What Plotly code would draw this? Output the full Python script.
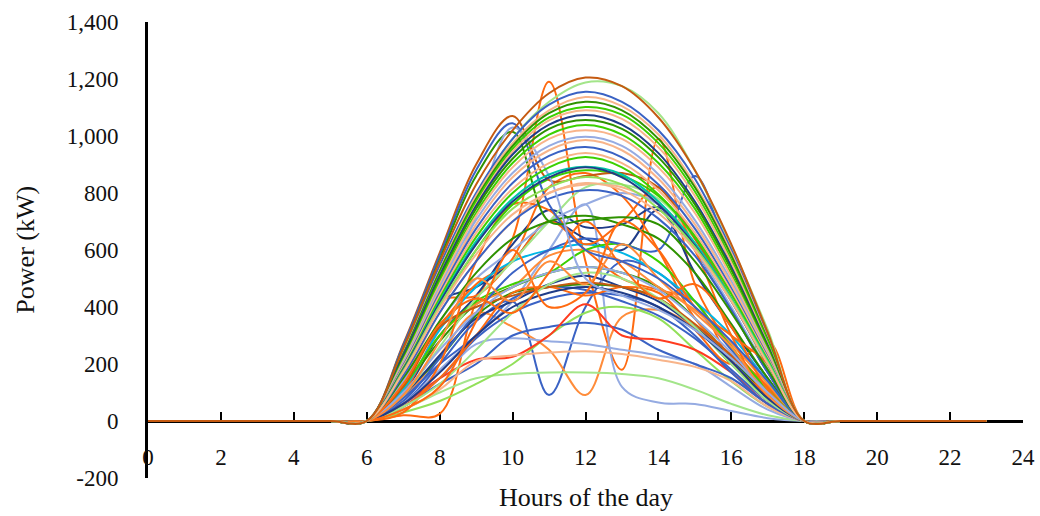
import plotly.graph_objects as go

# ---------------- data ----------------
HOURS = list(range(24))
DAY_HOURS = list(range(7, 18))          # hours 7..17 carry generation
NIGHT_BEFORE = [0, 0, 0, 0, 0, 0, 0]    # hours 0..6
NIGHT_AFTER = [0, 0, 0, 0, 0, 0]        # hours 18..23

X_TICKS = [0, 2, 4, 6, 8, 10, 12, 14, 16, 18, 20, 22, 24]
Y_TICKS = [-200, 0, 200, 400, 600, 800, 1000, 1200, 1400]
Y_TICK_TEXT = ["-200", "0", "200", "400", "600", "800", "1,000", "1,200", "1,400"]

BROWN = "#C55A11"
ORANGE = "#FF6A10"
MORANGE = "#FF8C3A"
LORANGE = "#F8B48A"
RED = "#FF3B1F"
LGREEN = "#A3E58A"
MGREEN = "#92E05A"
BGREEN = "#3CD000"
DGREEN = "#2E9200"
NAVY = "#1F3C88"
BLUE = "#3A62C4"
LBLUE = "#95ABE2"
CYAN = "#00B6E6"
TEAL = "#00C4A7"

# clear-sky days (hours 7..17)
clear_days = [
    [230, 520, 790, 990, 1120, 1188, 1175, 1080, 880, 615, 320],
    [245, 545, 800, 990, 1110, 1155, 1120, 1020, 850, 600, 300],
    [240, 530, 790, 975, 1090, 1137, 1105, 1005, 830, 590, 290],
    [235, 525, 780, 965, 1080, 1120, 1090, 990, 820, 580, 285],
    [230, 515, 770, 955, 1065, 1102, 1075, 975, 805, 565, 280],
    [225, 510, 760, 945, 1055, 1090, 1060, 960, 790, 555, 270],
    [230, 510, 755, 935, 1040, 1074, 1040, 940, 770, 540, 265],
    [220, 500, 745, 920, 1025, 1056, 1025, 925, 760, 530, 260],
    [215, 490, 730, 905, 1005, 1039, 1005, 905, 745, 515, 250],
    [210, 480, 720, 890, 990, 1020, 990, 890, 730, 505, 245],
    [205, 470, 705, 870, 965, 997, 965, 865, 705, 490, 240],
    [200, 460, 690, 855, 950, 986, 950, 850, 690, 480, 235],
    [195, 450, 675, 835, 930, 961, 925, 830, 675, 465, 225],
    [190, 440, 660, 815, 905, 940, 905, 810, 660, 455, 220],
    [185, 430, 645, 800, 890, 926, 890, 795, 645, 445, 215],
    [180, 420, 630, 780, 865, 892, 865, 770, 625, 430, 210],
    [180, 415, 620, 770, 855, 890, 855, 760, 615, 420, 200],
    [175, 405, 600, 745, 820, 856, 830, 745, 610, 425, 205],
    [170, 395, 585, 725, 800, 835, 810, 730, 600, 420, 200],
    [255, 560, 830, 1020, 1150, 1205, 1175, 1065, 880, 620, 310],
]
clear_colors = [
    LGREEN, BLUE, LORANGE, DGREEN, BGREEN, LORANGE, NAVY, DGREEN,
    BGREEN, LORANGE, LBLUE, LORANGE, BLUE, LORANGE, BGREEN, TEAL, NAVY,
    MGREEN, LORANGE, BROWN,
]

# days with an early peak then a drop (hours 7..17)
early_peak_days = [
    [270, 590, 900, 1070, 845, 860, 870, 820, 640, 430, 200],
    [265, 580, 880, 1045, 760, 600, 560, 500, 400, 280, 140],
    [255, 565, 860, 1015, 700, 705, 715, 690, 560, 380, 180],
    [200, 420, 720, 1030, 860, 500, 440, 390, 320, 220, 100],
]
early_peak_colors = [BROWN, BLUE, DGREEN, LBLUE]

# cloudy / variable days (hours 7..17)
cloudy_days = [
    [20, 25, 420, 640, 1190, 560, 180, 990, 480, 260, 120],
    [100, 300, 440, 620, 740, 680, 690, 750, 600, 390, 170],
    [180, 420, 470, 560, 700, 640, 600, 740, 520, 330, 150],
    [60, 200, 350, 420, 91, 400, 560, 520, 400, 250, 100],
    [80, 230, 380, 330, 250, 91, 365, 390, 330, 230, 100],
    [60, 180, 300, 420, 600, 760, 120, 65, 60, 35, 10],
    [40, 100, 150, 165, 170, 170, 165, 150, 110, 60, 20],
    [30, 70, 130, 200, 300, 380, 400, 360, 250, 140, 50],
    [60, 150, 270, 290, 280, 270, 250, 230, 200, 120, 40],
    [50, 130, 200, 300, 330, 345, 320, 250, 200, 150, 60],
    [60, 150, 215, 225, 300, 410, 300, 285, 250, 170, 60],
    [40, 110, 210, 230, 240, 245, 235, 215, 190, 140, 50],
    [50, 150, 290, 380, 430, 450, 440, 400, 300, 170, 60],
    [80, 200, 300, 430, 470, 460, 420, 370, 290, 180, 70],
    [100, 220, 370, 450, 470, 480, 470, 430, 330, 200, 80],
    [120, 280, 410, 470, 520, 540, 520, 470, 360, 220, 90],
    [90, 230, 360, 420, 480, 510, 470, 420, 330, 220, 100],
    [50, 150, 300, 450, 470, 440, 470, 450, 320, 200, 280],
    [100, 330, 480, 560, 700, 600, 500, 460, 420, 210, 90],
    [150, 420, 440, 570, 820, 870, 790, 600, 360, 230, 120],
    [120, 300, 410, 470, 580, 600, 560, 470, 390, 270, 130],
    [150, 380, 560, 700, 800, 830, 820, 760, 640, 450, 200],
    [140, 350, 500, 600, 700, 760, 800, 760, 600, 400, 180],
    [110, 320, 470, 560, 600, 620, 590, 520, 420, 300, 140],
    [120, 300, 420, 480, 520, 600, 620, 560, 420, 260, 110],
    [90, 260, 430, 560, 700, 820, 830, 780, 640, 430, 190],
    [120, 330, 400, 440, 470, 485, 470, 430, 340, 230, 100],
    [70, 220, 380, 520, 600, 640, 620, 600, 860, 540, 260],
    [30, 200, 560, 760, 740, 620, 700, 820, 600, 300, 80],
    [150, 350, 520, 640, 700, 720, 690, 640, 520, 340, 150],
    [180, 400, 600, 760, 850, 880, 860, 790, 650, 450, 210],
    [160, 380, 560, 700, 780, 810, 790, 710, 580, 390, 170],
    [50, 130, 250, 380, 480, 520, 500, 430, 330, 200, 70],
    [60, 170, 300, 400, 450, 470, 450, 400, 320, 210, 80],
    [100, 250, 380, 470, 520, 540, 520, 460, 360, 240, 100],
    [40, 120, 350, 600, 400, 450, 700, 600, 400, 300, 200],
    [130, 340, 430, 380, 520, 700, 540, 430, 480, 330, 110],
    [90, 280, 500, 420, 560, 480, 620, 500, 380, 260, 90],
]
cloudy_colors = [
    ORANGE, NAVY, NAVY, BLUE, MORANGE, LBLUE, LGREEN, MGREEN, LBLUE, BLUE,
    RED, LORANGE, BLUE, BLUE, DGREEN, DGREEN, NAVY, ORANGE, ORANGE, ORANGE,
    MORANGE, LORANGE, LBLUE, CYAN, BGREEN, LGREEN, BROWN, BLUE, ORANGE,
    DGREEN, BGREEN, BLUE, LGREEN, NAVY, LBLUE, ORANGE, ORANGE, MORANGE,
]

# ---------------- figure ----------------
FONT = "Liberation Serif, Times New Roman, serif"
TXT = "#111111"

fig = go.Figure()

groups = [
    (cloudy_days, cloudy_colors),
    (early_peak_days, early_peak_colors),
    (clear_days, clear_colors),
]
for days, colors in groups:
    for vals, col in zip(days, colors):
        fig.add_trace(go.Scatter(
            x=HOURS,
            y=NIGHT_BEFORE + vals + NIGHT_AFTER,
            mode="lines",
            line=dict(color=col, width=2, shape="spline", smoothing=1.0),
            showlegend=False,
            hoverinfo="skip",
        ))

# y = 0 position as a fraction of the plot height
y_min, y_max = Y_TICKS[0], Y_TICKS[-1]
zero_frac = (0 - y_min) / (y_max - y_min)

fig.update_layout(
    width=1040,
    height=516,
    margin=dict(l=148, r=17, t=22, b=38),
    paper_bgcolor="white",
    plot_bgcolor="white",
    font=dict(family=FONT, size=23, color=TXT),
    xaxis=dict(
        range=[X_TICKS[0], X_TICKS[-1]],
        tickvals=X_TICKS,
        ticktext=[str(v) for v in X_TICKS],
        anchor="free",
        position=zero_frac,
        automargin=False,
        showline=True,
        linecolor="black",
        linewidth=3,
        layer="below traces",
        ticks="inside",
        ticklen=8,
        tickwidth=2,
        tickcolor="black",
        ticklabelstandoff=14,
        showgrid=False,
        zeroline=False,
        tickfont=dict(family=FONT, size=23, color=TXT),
    ),
    yaxis=dict(
        range=[y_min, y_max],
        tickvals=Y_TICKS,
        ticktext=Y_TICK_TEXT,
        automargin=False,
        showline=True,
        linecolor="black",
        linewidth=3,
        layer="below traces",
        ticks="",
        ticklabelstandoff=22,
        showgrid=False,
        zeroline=False,
        tickfont=dict(family=FONT, size=23, color=TXT),
    ),
    annotations=[
        dict(text="Hours of the day", xref="paper", yref="paper",
             x=0.5, y=-0.042, xanchor="center", yanchor="middle",
             showarrow=False, font=dict(family=FONT, size=26, color=TXT)),
        dict(text="Power (kW)", xref="paper", yref="paper",
             x=-0.141, y=0.5, xanchor="center", yanchor="middle",
             textangle=-90, showarrow=False,
             font=dict(family=FONT, size=26, color=TXT)),
    ],
)

fig.write_html(
    "out.html",
    config={"displayModeBar": False},
    post_script="document.body.style.margin='0px';document.body.style.overflow='hidden';",
)
